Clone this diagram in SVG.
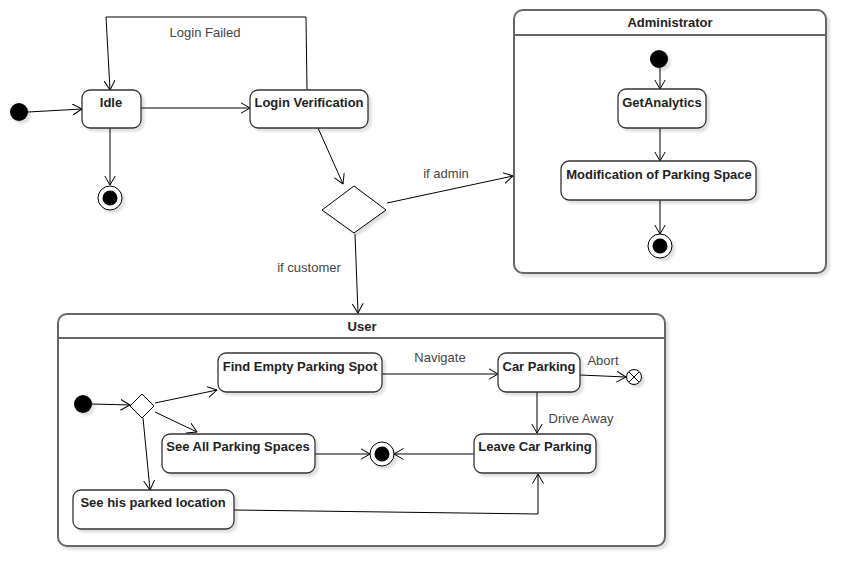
<svg xmlns="http://www.w3.org/2000/svg" width="866" height="586" viewBox="0 0 866 586">
<defs>
<filter id="sh" x="-10%" y="-10%" width="130%" height="130%"><feDropShadow dx="3" dy="3" stdDeviation="1.2" flood-color="#000" flood-opacity="0.12"/></filter>
<marker id="arr" viewBox="0 0 10 12" refX="9.5" refY="6" markerWidth="10" markerHeight="12" markerUnits="userSpaceOnUse" orient="auto"><path d="M0,0.5 L9.5,6 L0,11.5" fill="none" stroke="#000" stroke-width="1"/></marker>
</defs>
<style>
.st{fill:#fff;stroke:#333;stroke-width:1.3;filter:url(#sh)}
.ct{fill:#fff;stroke:#666;stroke-width:2;filter:url(#sh)}
.hd{stroke:#666;stroke-width:2}
.t{font-family:"Liberation Sans",Arial,sans-serif;font-size:13px;font-weight:bold;fill:#222;text-anchor:middle}
.lb{font-family:"Liberation Sans",Arial,sans-serif;font-size:13px;fill:#444;text-anchor:middle}
.c{fill:none;stroke:#000;stroke-width:1;marker-end:url(#arr)}
.ini{fill:#000;filter:url(#sh)}
.fo{fill:#fff;stroke:#000;stroke-width:1;filter:url(#sh)}
</style>
<rect width="866" height="586" fill="#fff"/>

<g id="admin">
<rect class="ct" x="514" y="10" width="312" height="263" rx="9"/>
<line class="hd" x1="514" y1="35" x2="826" y2="35"/>
<text class="t" x="670" y="27">Administrator</text>
</g>
<g id="user">
<rect class="ct" x="58" y="314" width="607" height="232" rx="9"/>
<line class="hd" x1="58" y1="338" x2="665" y2="338"/>
<text class="t" x="362" y="331">User</text>
</g>

<g id="connectors">
<line class="c" x1="28" y1="112" x2="82" y2="109"/>
<line class="c" x1="141" y1="108" x2="250" y2="108"/>
<line class="c" x1="110" y1="128" x2="110" y2="185"/>
<polyline class="c" points="307,90 306,17 106,17 110,90"/>
<line class="c" x1="318" y1="128" x2="343" y2="184"/>
<line class="c" x1="387" y1="203" x2="513" y2="176"/>
<line class="c" x1="355" y1="234" x2="358" y2="313"/>
<line class="c" x1="660" y1="68" x2="660" y2="89"/>
<line class="c" x1="660" y1="128" x2="660" y2="161"/>
<line class="c" x1="660" y1="200" x2="660" y2="234"/>
<line class="c" x1="92" y1="404" x2="130" y2="405"/>
<line class="c" x1="155" y1="403" x2="217" y2="390"/>
<line class="c" x1="155" y1="412" x2="197" y2="432"/>
<line class="c" x1="143" y1="418" x2="150" y2="490"/>
<line class="c" x1="382" y1="374" x2="498" y2="374"/>
<line class="c" x1="580" y1="375" x2="626" y2="377"/>
<line class="c" x1="537" y1="392" x2="537" y2="433"/>
<line class="c" x1="315" y1="454" x2="370" y2="454"/>
<line class="c" x1="474" y1="454" x2="394" y2="454"/>
<polyline class="c" points="234,510 538,514 538,474"/>
</g>

<g id="labels">
<text class="lb" x="205" y="37">Login Failed</text>
<text class="lb" x="446" y="178">if admin</text>
<text class="lb" x="309" y="272">if customer</text>
<text class="lb" x="440" y="362">Navigate</text>
<text class="lb" x="603" y="365">Abort</text>
<text class="lb" x="581" y="423">Drive Away</text>
</g>

<g id="start1"><circle class="ini" cx="19" cy="112" r="9"/></g>
<g id="idle"><rect class="st" x="82" y="90" width="59" height="38" rx="8"/><text class="t" x="111" y="107">Idle</text></g>
<g id="loginVerification"><rect class="st" x="250" y="90" width="118" height="38" rx="8"/><text class="t" x="309" y="107">Login Verification</text></g>
<g id="end1"><circle class="fo" cx="110" cy="198" r="12"/><circle cx="110" cy="198" r="7.5" fill="#000"/></g>
<g id="decision"><polygon points="354,186 386,210 354,233 322,210" fill="#fff" stroke="#000" stroke-width="1" filter="url(#sh)"/></g>

<g id="start2"><circle class="ini" cx="659" cy="59" r="9"/></g>
<g id="getAnalytics"><rect class="st" x="618" y="89" width="88" height="39" rx="8"/><text class="t" x="662" y="107">GetAnalytics</text></g>
<g id="modification"><rect class="st" x="561" y="161" width="195" height="39" rx="8"/><text class="t" x="659" y="179">Modification of Parking Space</text></g>
<g id="end2"><circle class="fo" cx="660" cy="246" r="12"/><circle cx="660" cy="246" r="7.5" fill="#000"/></g>

<g id="start3"><circle class="ini" cx="83" cy="404" r="9"/></g>
<g id="decision2"><polygon points="142,394 154,406 142,418 130,406" fill="#fff" stroke="#000" stroke-width="1"/></g>
<g id="findSpot"><rect class="st" x="218" y="353" width="164" height="39" rx="8"/><text class="t" x="300" y="371">Find Empty Parking Spot</text></g>
<g id="carParking"><rect class="st" x="498" y="353" width="82" height="39" rx="8"/><text class="t" x="539" y="371">Car Parking</text></g>
<g id="flowFinal"><circle class="fo" cx="634" cy="377" r="7.5"/><path d="M629,372 L639,382 M639,372 L629,382" stroke="#000" stroke-width="1"/></g>
<g id="seeAll"><rect class="st" x="162" y="434" width="153" height="39" rx="8"/><text class="t" x="238" y="451">See All Parking Spaces</text></g>
<g id="end3"><circle class="fo" cx="382" cy="454" r="12"/><circle cx="382" cy="454" r="7.5" fill="#000"/></g>
<g id="leave"><rect class="st" x="474" y="434" width="122" height="39" rx="8"/><text class="t" x="535" y="451">Leave Car Parking</text></g>
<g id="seeHis"><rect class="st" x="73" y="490" width="161" height="39" rx="8"/><text class="t" x="153" y="507">See his parked location</text></g>
</svg>
